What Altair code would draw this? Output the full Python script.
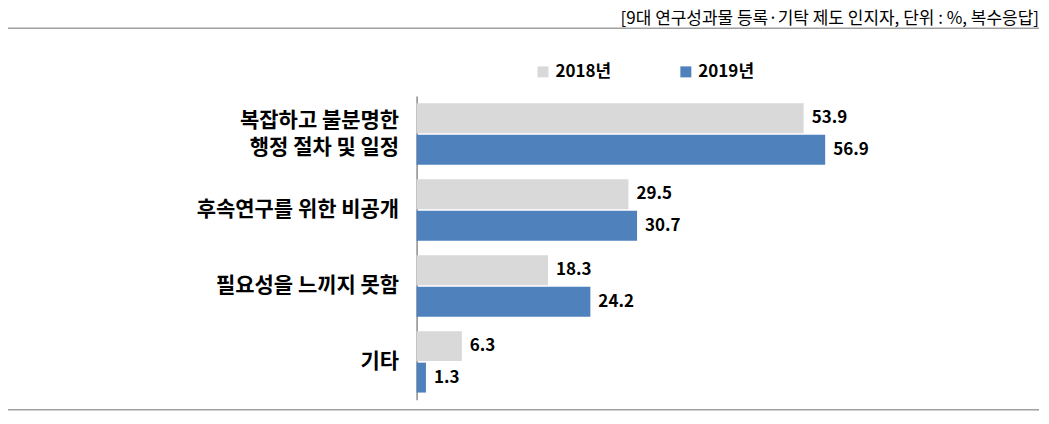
import altair as alt
import pandas as pd

categories = ["복잡하고 불분명한|행정 절차 및 일정", "후속연구를 위한 비공개", "필요성을 느끼지 못함", "기타"]
years = ["2018년", "2019년"]
v2018 = [53.9, 29.5, 18.3, 6.3]
v2019 = [56.9, 30.7, 24.2, 1.3]
note = "[9대 연구성과물 등록·기탁 제도 인지자, 단위 : %, 복수응답]"
colors = ["#d9d9d9", "#4f81bd"]

rows = []
for c, a, b in zip(categories, v2018, v2019):
    rows.append({"cat": c, "year": years[0], "value": a})
    rows.append({"cat": c, "year": years[1], "value": b})
df = pd.DataFrame(rows)

FONT = "Noto Sans CJK KR"

base = alt.Chart(df).encode(
    y=alt.Y("cat:N", sort=categories, title=None,
            scale=alt.Scale(paddingInner=0, paddingOuter=0),
            axis=alt.Axis(labelExpr="split(datum.value, '|')", labelFont=FONT,
                          labelFontSize=21, labelFontWeight="bold", labelColor="#000",
                          labelLineHeight=27, labelPadding=18, ticks=False,
                          labelOffset={"condition": {"test": "indexof(datum.value, '|') >= 0", "value": -13}, "value": 0},
                          domainColor="#8c8c8c", domainWidth=1.5, labelLimit=400)),
    yOffset=alt.YOffset("year:N", sort=years,
                        scale=alt.Scale(paddingInner=0.05, paddingOuter=0.23)),
)

bars = base.mark_bar().encode(
    x=alt.X("value:Q", scale=alt.Scale(domain=[0, 80]), axis=None),
    color=alt.Color("year:N", sort=years,
                    scale=alt.Scale(domain=years, range=colors),
                    legend=alt.Legend(title=None, orient="none", direction="horizontal",
                                      legendX=118, legendY=-33, symbolType="square",
                                      symbolSize=121, symbolStrokeWidth=0,
                                      labelFont=FONT, labelFontSize=17,
                                      labelFontWeight="bold", labelColor="#000",
                                      columnPadding=66, padding=0, labelOffset=4)),
)

labels = base.mark_text(align="left", baseline="middle", dx=8, font=FONT,
                        fontSize=17, fontWeight="bold", color="#000").encode(
    x=alt.X("value:Q"),
    text=alt.Text("value:Q", format=".1f"),
)

deco = alt.Chart(pd.DataFrame({"k": [0]}))
top_line = deco.mark_rule(color="#a0a0a0", strokeWidth=1.5).encode(
    x=alt.value(-409), x2=alt.value(623), y=alt.value(-68))
bottom_line = deco.mark_rule(color="#a0a0a0", strokeWidth=1.5).encode(
    x=alt.value(-409), x2=alt.value(623), y=alt.value(314))
note_text = deco.mark_text(align="right", baseline="alphabetic", font=FONT,
                           fontSize=17, color="#000").encode(
    x=alt.value(623), y=alt.value(-72), text=alt.value(note))

chart = alt.layer(bars, labels, top_line, bottom_line, note_text).properties(
    width=575, height=304,
    autosize=alt.AutoSizeParams(type="none"),
    padding={"left": 409, "top": 88, "right": 50, "bottom": 16},
).configure_view(stroke=None)

chart.save("out.html", embed_options={"renderer": "svg", "actions": False})
